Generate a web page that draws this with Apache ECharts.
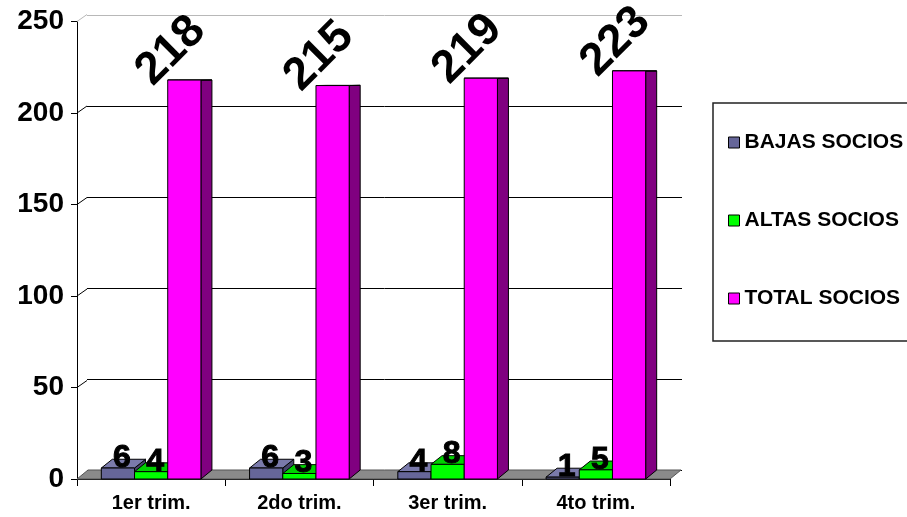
<!DOCTYPE html>
<html>
<head>
<meta charset="utf-8">
<script src="https://cdn.jsdelivr.net/npm/echarts@6/dist/echarts.min.js"></script>
<style>
  html, body { margin: 0; padding: 0; background: #fff; }
  #chart { width: 907px; height: 517px; }
</style>
</head>
<body>
<div id="chart"></div>
<script>
// Quarterly membership figures
const categories = ['1er trim.', '2do trim.', '3er trim.', '4to trim.'];
const bajasSocios = [6, 6, 4, 1];
const altasSocios = [4, 3, 8, 5];
const totalSocios = [218, 215, 219, 223];
const yTicks = [0, 50, 100, 150, 200, 250];

const FONT = '"Liberation Sans", Arial, Helvetica, sans-serif';
const DX = 11;   // horizontal depth of the 3D boxes / back wall
const DY = -9;   // vertical depth of the 3D boxes / back wall

// Draws one 3D column (front, right side, top) plus its value label.
function boxRenderer(slot, faces, rotatedLabel) {
  return function (params, api) {
    const i = api.value(0);
    const v = api.value(1);
    const base = api.coord([i, 0]);
    const top = api.coord([i, v]);
    const cw = api.size([1, 0])[0];
    const bw = cw * 0.224;
    const cx = base[0] + slot * bw;
    const xL = cx - bw / 2, xR = cx + bw / 2;
    const yB = base[1], yT = top[1];
    const dyT = DY * Math.max(0, 1 - v / 220);
    const line = { stroke: '#000', lineWidth: 1 };
    const children = [
      { type: 'polygon', shape: { points: [[xR, yT], [xR + DX, yT + dyT], [xR + DX, yB + DY], [xR, yB]] },
        style: Object.assign({ fill: faces.side }, line) },
      { type: 'polygon', shape: { points: [[xL, yT], [xL + DX, yT + dyT], [xR + DX, yT + dyT], [xR, yT]] },
        style: Object.assign({ fill: faces.top }, line) },
      { type: 'rect', shape: { x: xL, y: yT, width: bw, height: yB - yT },
        style: Object.assign({ fill: faces.front }, line) }
    ];
    if (rotatedLabel) {
      children.push({
        type: 'text', x: xL - 24, y: yT - 2, rotation: Math.PI / 4, z2: 20,
        style: { text: String(v), font: 'bold 46px ' + FONT, fill: '#000',
                 align: 'left', verticalAlign: 'middle' }
      });
    } else {
      children.push({
        type: 'text', x: cx + 4, y: yT - 10, z2: 20,
        style: { text: String(v), font: 'bold 32px ' + FONT, fill: '#000',
                 stroke: '#000', lineWidth: 1,
                 align: 'center', verticalAlign: 'middle' }
      });
    }
    return { type: 'group', children: children };
  };
}

// Grey floor slab under the columns.
function floorRenderer(params, api) {
  const cw = api.size([1, 0])[0];
  const p0 = api.coord([0, 0]);
  const p1 = api.coord([categories.length - 1, 0]);
  const x0 = p0[0] - cw / 2, x1 = p1[0] + cw / 2, y = p0[1];
  return {
    type: 'polygon',
    shape: { points: [[x0, y], [x1, y], [x1 + DX, y + DY], [x0 + DX, y + DY]] },
    style: { fill: '#8a8a8a', stroke: '#555', lineWidth: 1 }
  };
}

// Short slanted links between the value axis and the back-wall gridlines.
function linkRenderer(params, api) {
  const v = api.value(0);
  const cw = api.size([1, 0])[0];
  const p = api.coord([0, v]);
  const x = p[0] - cw / 2;
  return {
    type: 'line',
    shape: { x1: x, y1: p[1], x2: x + DX - 1, y2: p[1] - 7 },
    style: { stroke: v === 250 ? '#b8b8b8' : '#000', lineWidth: 1 }
  };
}

const toPairs = arr => arr.map((v, i) => [i, v]);

const chart = echarts.init(document.getElementById('chart'), null, { renderer: 'canvas' });
chart.setOption({
  animation: false,
  backgroundColor: '#fff',
  grid: [
    { left: 77, right: 237, top: 21.5, bottom: 38 },
    { left: 87, right: 225, top: 15, bottom: 47 }
  ],
  xAxis: [
    {
      type: 'category', gridIndex: 0, data: categories,
      axisLine: { lineStyle: { color: '#000', width: 1 } },
      axisTick: { show: true, length: 7, lineStyle: { color: '#000' } },
      axisLabel: { color: '#000', fontFamily: FONT, fontWeight: 'bold', fontSize: 20, margin: 14 }
    },
    {
      type: 'category', gridIndex: 1, data: categories, show: false
    }
  ],
  yAxis: [
    {
      type: 'value', gridIndex: 0, min: 0, max: 250, interval: 50,
      axisLine: { show: true, lineStyle: { color: '#000', width: 1 } },
      axisTick: { show: true, length: 6, lineStyle: { color: '#000' } },
      axisLabel: { color: '#000', fontFamily: FONT, fontWeight: 'bold', fontSize: 28, margin: 13 },
      splitLine: { show: false }
    },
    {
      type: 'value', gridIndex: 1, min: 0, max: 250, interval: 50,
      axisLine: { show: false }, axisTick: { show: false }, axisLabel: { show: false },
      splitLine: { show: true, lineStyle: { color: ['#000', '#000', '#000', '#000', '#000', '#b8b8b8'], width: 1 } }
    }
  ],
  legend: {
    orient: 'vertical', left: 713, top: 103,
    data: ['BAJAS SOCIOS', 'ALTAS SOCIOS', 'TOTAL SOCIOS'],
    icon: 'rect', itemWidth: 11, itemHeight: 11, itemGap: 57,
    padding: [29, 60, 32, 15],
    borderColor: '#222', borderWidth: 1.5, backgroundColor: '#fff',
    textStyle: { color: '#000', fontFamily: FONT, fontWeight: 'bold', fontSize: 21 },
    itemStyle: { borderColor: '#000', borderWidth: 1 }
  },
  series: [
    {
      type: 'custom', name: 'floor', xAxisIndex: 0, yAxisIndex: 0, z: 2,
      data: [[0]], renderItem: floorRenderer, silent: true
    },
    {
      type: 'custom', name: 'links', xAxisIndex: 0, yAxisIndex: 0, z: 2,
      data: yTicks.filter(t => t > 0).map(t => [t]), renderItem: linkRenderer, silent: true
    },
    {
      type: 'custom', name: 'BAJAS SOCIOS', xAxisIndex: 0, yAxisIndex: 0, z: 3,
      itemStyle: { color: '#666699' },
      data: toPairs(bajasSocios),
      renderItem: boxRenderer(-1, { front: '#666699', top: '#7a7aab', side: '#44446a' }, false)
    },
    {
      type: 'custom', name: 'ALTAS SOCIOS', xAxisIndex: 0, yAxisIndex: 0, z: 3,
      itemStyle: { color: '#00ff00' },
      data: toPairs(altasSocios),
      renderItem: boxRenderer(0, { front: '#00ff00', top: '#00d000', side: '#009900' }, false)
    },
    {
      type: 'custom', name: 'TOTAL SOCIOS', xAxisIndex: 0, yAxisIndex: 0, z: 3,
      itemStyle: { color: '#ff00ff' },
      data: toPairs(totalSocios),
      renderItem: boxRenderer(1, { front: '#ff00ff', top: '#d000d0', side: '#800080' }, true)
    }
  ]
});
</script>
</body>
</html>
